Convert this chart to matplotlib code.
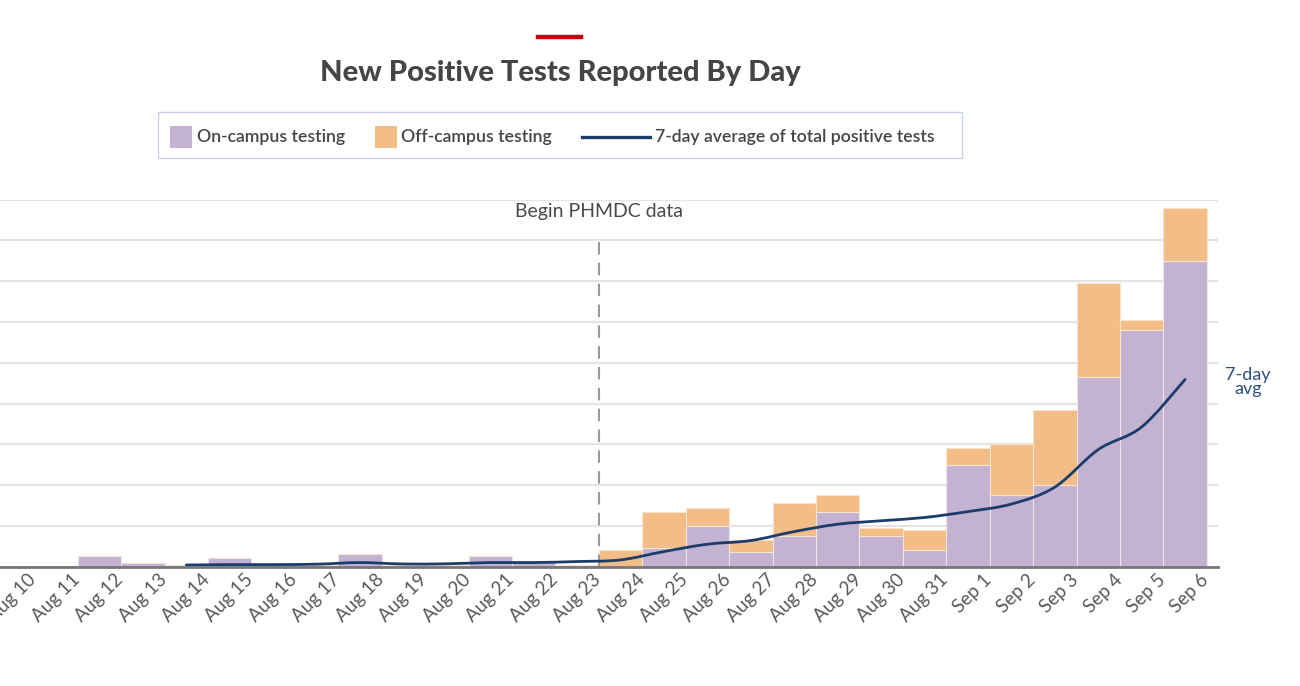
import matplotlib
matplotlib.use('Agg')
import matplotlib.pyplot as plt
from matplotlib.patches import Rectangle, PathPatch
from matplotlib.lines import Line2D
from matplotlib.path import Path
import matplotlib.transforms as mtransforms

# Data (gridline step = 20)
days = ['Aug 10', 'Aug 11', 'Aug 12', 'Aug 13', 'Aug 14', 'Aug 15', 'Aug 16',
        'Aug 17', 'Aug 18', 'Aug 19', 'Aug 20', 'Aug 21', 'Aug 22', 'Aug 23',
        'Aug 24', 'Aug 25', 'Aug 26', 'Aug 27', 'Aug 28', 'Aug 29', 'Aug 30',
        'Aug 31', 'Sep 1', 'Sep 2', 'Sep 3', 'Sep 4', 'Sep 5', 'Sep 6']
on_campus = [0, 0, 5, 2, 1, 4, 1, 1, 6, 1, 1, 5, 3, 1,
             0, 9, 20, 7, 15, 27, 15, 8, 50, 35, 40, 93, 116, 150]
off_campus = [0, 0, 0, 0, 0, 0, 0, 0, 0, 0, 0, 0, 0, 0,
              8, 18, 9, 6, 16, 8, 4, 10, 8, 25, 37, 46, 5, 26]
# 7-day average, starts on Aug 14
avg_days = days[4:]
avg_values = [0.8, 1.0, 1.0, 1.2, 2.0, 1.3, 1.4, 2.0, 2.0, 2.5,
              3.3, 7.4, 11, 12.8, 17.2, 20.8, 22.5, 24.1, 27, 30.7,
              39, 57.4, 68.5, 91.8]

purple = '#c3b2d1'
orange = '#f2bd86'
navy = '#1c3d6b'
text_gray = '#454545'

plt.rcParams['font.family'] = ['Lato', 'DejaVu Sans']

fig = plt.figure(figsize=(13, 6.86), dpi=100)
ax = fig.add_axes([0.0, 0.174, 0.937, 0.535])

x = list(range(len(days)))
ax.bar(x, on_campus, width=1.0, color=purple, edgecolor='#ebe5f0', linewidth=0.8, zorder=2)
ax.bar(x, off_campus, width=1.0, bottom=on_campus, color=orange,
       edgecolor='#f7e3cf', linewidth=0.8, zorder=2)

# smooth 7-day average line (Catmull-Rom drawn as cubic Bezier in data space)
avg_x = [days.index(d) for d in avg_days]
pts = list(zip(avg_x, avg_values))
verts = [pts[0]]
codes = [Path.MOVETO]
for i in range(len(pts) - 1):
    p0 = pts[i - 1] if i > 0 else pts[i]
    p1 = pts[i]
    p2 = pts[i + 1]
    p3 = pts[i + 2] if i + 2 < len(pts) else pts[i + 1]
    c1 = (p1[0] + (p2[0] - p0[0]) / 6, p1[1] + (p2[1] - p0[1]) / 6)
    c2 = (p2[0] - (p3[0] - p1[0]) / 6, p2[1] - (p3[1] - p1[1]) / 6)
    verts += [c1, c2, p2]
    codes += [Path.CURVE4] * 3
ax.add_patch(PathPatch(Path(verts, codes), facecolor='none', edgecolor=navy,
                       linewidth=2.0, capstyle='round', joinstyle='round', zorder=4))

# Begin PHMDC marker
ax.vlines(13.5, 0, 160, colors='#9a9a9a', linestyles=(0, (6, 4)), linewidth=1.5, zorder=3)
ax.text(13.5, 174, 'Begin PHMDC data', ha='center', va='center', fontsize=14,
        color='#4a4a4a')

ax.text(28.45, 90.5, '7-day\navg', ha='center', va='center', fontsize=13,
        color='#2c4f7e', linespacing=0.9, clip_on=False)

ax.set_xlim(-0.29, 27.76)
ax.set_ylim(0, 180)
ax.set_yticks(range(0, 181, 20))
ax.yaxis.grid(True, color='#e4e4e4', linewidth=1.6, zorder=0)
ax.set_axisbelow(True)
ax.tick_params(axis='y', left=False, labelleft=False)
ax.tick_params(axis='x', length=0, pad=3)
ax.set_xticks(x)
ax.set_xticklabels(days, rotation=45, ha='right', va='top', rotation_mode='anchor',
                   fontsize=13.5, color='#5a5a5a')
offset = mtransforms.ScaledTranslation(15 / 100, 0, fig.dpi_scale_trans)
for lab in ax.get_xticklabels():
    lab.set_transform(lab.get_transform() + offset)

for side in ['left', 'right', 'top']:
    ax.spines[side].set_visible(False)
ax.spines['bottom'].set_color('#777777')
ax.spines['bottom'].set_linewidth(2.0)
ax.spines['bottom'].set_zorder(5)

# Title and red accent
fig.add_artist(Line2D([0.4138, 0.4469], [0.946, 0.946], color='#c5050c', linewidth=3.2))
fig.text(0.4308, 0.893, 'New Positive Tests Reported By Day', ha='center', va='center',
         fontsize=21, fontweight='black', color=text_gray)

# Legend box drawn by hand
fig.add_artist(Rectangle((0.1215, 0.7697), 0.6185, 0.0671, transform=fig.transFigure,
                         facecolor='white', edgecolor='#c9d3e8', linewidth=1.0))
fig.add_artist(Rectangle((0.1308, 0.7843), 0.0169, 0.0321, transform=fig.transFigure,
                         facecolor=purple, edgecolor='none'))
fig.text(0.1515, 0.8003, 'On-campus testing', ha='left', va='center', fontsize=12.7,
         fontweight='semibold', color=text_gray)
fig.add_artist(Rectangle((0.2885, 0.7843), 0.0169, 0.0321, transform=fig.transFigure,
                         facecolor=orange, edgecolor='none'))
fig.text(0.3085, 0.8003, 'Off-campus testing', ha='left', va='center', fontsize=12.7,
         fontweight='semibold', color=text_gray)
fig.add_artist(Line2D([0.4477, 0.5], [0.8003, 0.8003], color=navy, linewidth=2.4))
fig.text(0.5038, 0.8003, '7-day average of total positive tests', ha='left', va='center',
         fontsize=12.7, fontweight='semibold', color=text_gray)

fig.savefig('out.png', dpi=100)
